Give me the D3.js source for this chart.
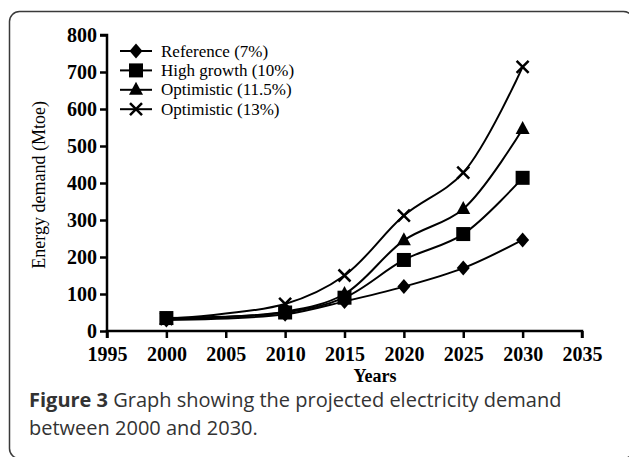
<!DOCTYPE html>
<html>
<head>
<meta charset="utf-8">
<script src="https://cdn.jsdelivr.net/npm/d3@7"></script>
<style>
  body { margin: 0; background: #fff; }
  svg { display: block; }
</style>
</head>
<body>
<div id="chart"></div>
<script>
const years = [2000, 2010, 2015, 2020, 2025, 2030];
const seriesNames = ['Reference (7%)', 'High growth (10%)', 'Optimistic (11.5%)', 'Optimistic (13%)'];
const seriesSymbols = ['diamond', 'square', 'triangle', 'cross'];
const referenceValues = [30, 45, 80, 120, 170, 246];
const highGrowthValues = [35, 50, 90, 192, 262, 414];
const optimistic115Values = [32, 52, 100, 245, 330, 546];
const optimistic13Values = [33, 73, 150, 312, 428, 714];
const xTicks = [1995, 2000, 2005, 2010, 2015, 2020, 2025, 2030, 2035];
const yTicks = [0, 100, 200, 300, 400, 500, 600, 700, 800];

const width = 629;
const height = 457;
const serif = '"Liberation Serif", "Times New Roman", serif';

const svg = d3.select('#chart').append('svg')
  .attr('width', width)
  .attr('height', height);

// rounded frame, cut off at right and bottom
svg.append('rect')
  .attr('x', 9.5)
  .attr('y', 11.5)
  .attr('width', 624)
  .attr('height', 447)
  .attr('rx', 10)
  .attr('fill', 'none')
  .attr('stroke', '#3a3a3a')
  .attr('stroke-width', 1.5);

const x = d3.scaleLinear().domain([1995, 2035]).range([107, 582]);
const y = d3.scaleLinear().domain([0, 800]).range([331, 35]);

const xAxis = d3.axisBottom(x).tickValues(xTicks).tickFormat(d3.format('d')).tickSize(7).tickPadding(10);
const yAxis = d3.axisLeft(y).tickValues(yTicks).tickSize(7).tickPadding(3);

const gx = svg.append('g')
  .attr('transform', `translate(0, ${y(0)})`)
  .call(xAxis);
const gy = svg.append('g')
  .attr('transform', `translate(${x(1995)}, 0)`)
  .call(yAxis);

[gx, gy].forEach((g) => {
  g.select('.domain').attr('stroke', '#000').attr('stroke-width', 2.5);
  g.selectAll('.tick line').attr('stroke', '#000').attr('stroke-width', 2.5);
  g.selectAll('.tick text')
    .attr('fill', '#000')
    .style('font-family', serif)
    .style('font-weight', 'bold')
    .style('font-size', '20px');
});
gx.selectAll('.tick text').attr('dy', '0.66em');
// flat ends of the axes like the original
gx.select('.domain').attr('d', `M${x(1995)},7V0H${x(2035)}V7`);
gy.select('.domain').attr('d', `M-7,${y(800)}H0V${y(0)}`);

svg.append('text')
  .attr('x', 375)
  .attr('y', 382)
  .attr('text-anchor', 'middle')
  .style('font-family', serif)
  .style('font-weight', 'bold')
  .style('font-size', '18px')
  .text('Years');

svg.append('text')
  .attr('transform', `translate(45, ${y(395)}) rotate(-90)`)
  .attr('text-anchor', 'middle')
  .style('font-family', serif)
  .style('font-size', '18px')
  .text('Energy demand (Mtoe)');

const series = [referenceValues, highGrowthValues, optimistic115Values, optimistic13Values]
  .map((vals, i) => ({
    name: seriesNames[i],
    symbol: seriesSymbols[i],
    points: vals.map((v, j) => ({ year: years[j], value: v })),
  }));

const line = d3.line()
  .x(d => x(d.year))
  .y(d => y(d.value))
  .curve(d3.curveCatmullRom.alpha(0.5));

function drawMarker(g, symbol, cx, cy) {
  if (symbol === 'diamond') {
    g.append('path')
      .attr('d', `M${cx},${cy - 7.5}L${cx + 6.5},${cy}L${cx},${cy + 7.5}L${cx - 6.5},${cy}Z`)
      .attr('fill', '#000');
  } else if (symbol === 'square') {
    g.append('rect')
      .attr('x', cx - 7).attr('y', cy - 7)
      .attr('width', 14).attr('height', 14)
      .attr('fill', '#000');
  } else if (symbol === 'triangle') {
    g.append('path')
      .attr('d', `M${cx},${cy - 8}L${cx + 7},${cy + 5}L${cx - 7},${cy + 5}Z`)
      .attr('fill', '#000');
  } else {
    g.append('path')
      .attr('d', `M${cx - 6},${cy - 6}L${cx + 6},${cy + 6}M${cx + 6},${cy - 6}L${cx - 6},${cy + 6}`)
      .attr('stroke', '#000')
      .attr('stroke-width', 2.5);
  }
}

const plot = svg.append('g');
series.forEach((s) => {
  plot.append('path')
    .attr('d', line(s.points))
    .attr('fill', 'none')
    .attr('stroke', '#000')
    .attr('stroke-width', 2);
});
// markers on top, square last so it sits above the others at 2000
[0, 2, 3, 1].forEach((i) => {
  const s = series[i];
  const mg = plot.append('g');
  s.points.forEach(p => drawMarker(mg, s.symbol, x(p.year), y(p.value)));
});

// legend
const legend = svg.append('g');
series.forEach((s, i) => {
  const ly = 51 + i * 19.4;
  legend.append('line')
    .attr('x1', 120).attr('x2', 152)
    .attr('y1', ly).attr('y2', ly)
    .attr('stroke', '#000')
    .attr('stroke-width', 2);
  drawMarker(legend, s.symbol, 136, ly);
  legend.append('text')
    .attr('x', 161)
    .attr('y', ly + 5.5)
    .style('font-family', serif)
    .style('font-size', '17px')
    .text(s.name);
});

// caption
const caption = svg.append('text')
  .attr('x', 29)
  .attr('y', 407)
  .attr('fill', '#333')
  .style('font-family', '"Open Sans", "Noto Sans", sans-serif')
  .style('font-size', '20px');
caption.append('tspan').style('font-weight', 'bold').text('Figure 3');
caption.append('tspan').text(' Graph showing the projected electricity demand');
svg.append('text')
  .attr('x', 29)
  .attr('y', 435)
  .attr('fill', '#333')
  .style('font-family', '"Open Sans", "Noto Sans", sans-serif')
  .style('font-size', '20px')
  .text('between 2000 and 2030.');
</script>
</body>
</html>
